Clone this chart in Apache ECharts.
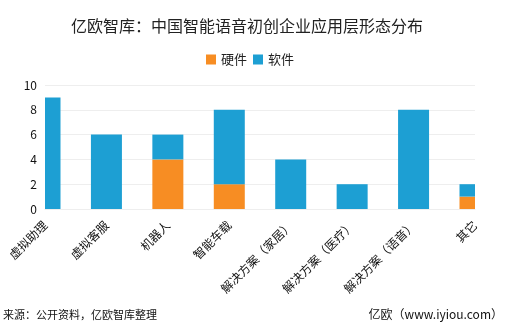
<!DOCTYPE html>
<html>
<head>
<meta charset="utf-8">
<script src="https://cdn.jsdelivr.net/npm/echarts@6/dist/echarts.min.js"></script>
<style>html,body{margin:0;padding:0;background:#fff;}#c{width:506px;height:327px;}</style>
</head>
<body>
<div id="c"></div>
<script>
const categories = ['虚拟助理', '虚拟客服', '机器人', '智能车载', '解决方案（家居）', '解决方案（医疗）', '解决方案（语音）', '其它'];
const hardware = [0, 0, 4, 2, 0, 0, 0, 1];
const software = [9, 6, 2, 6, 4, 2, 8, 1];
const yTicks = { min: 0, max: 10, interval: 2 };
const titleText = '亿欧智库：中国智能语音初创企业应用层形态分布';
const sourceText = '来源：公开资料，亿欧智库整理';
const siteText = '亿欧（www.iyiou.com）';

const FONT = '"Noto Sans CJK SC", "Noto Sans", sans-serif';
const BAR_W = 31;

// stacked data: [categoryIndex, value, base]
const hwData = hardware.map((v, i) => [i, v, 0]);
const swData = software.map((v, i) => [i, v, hardware[i]]);

function renderBar(params, api) {
  const i = api.value(0), v = api.value(1), b = api.value(2);
  if (!v) return null;
  const top = api.coord([i, b + v]);
  const bot = api.coord([i, b]);
  const cs = params.coordSys;
  const rect = echarts.graphic.clipRectByRect(
    { x: top[0] - BAR_W / 2, y: top[1], width: BAR_W, height: bot[1] - top[1] },
    { x: cs.x, y: cs.y, width: cs.width, height: cs.height }
  );
  return rect && { type: 'rect', shape: rect, style: api.style() };
}

const chart = echarts.init(document.getElementById('c'), null, { renderer: 'canvas' });
chart.setOption({
  backgroundColor: '#fff',
  animation: false,
  textStyle: { fontFamily: FONT },
  title: {
    text: titleText,
    left: 242, top: 13, textAlign: 'center',
    textStyle: { fontSize: 16, fontWeight: 'normal', color: '#222', fontFamily: FONT }
  },
  legend: {
    data: ['硬件', '软件'],
    left: 201, top: 48,
    itemWidth: 10, itemHeight: 10, itemGap: 6,
    icon: 'rect',
    textStyle: { fontSize: 13, color: '#222', fontFamily: FONT }
  },
  grid: { left: 45, right: 31, top: 85, bottom: 118, containLabel: false },
  xAxis: {
    type: 'category',
    data: categories,
    boundaryGap: false,
    axisLine: { lineStyle: { color: '#eeeeee' } },
    axisTick: { show: false },
    axisLabel: { rotate: 45, fontSize: 12, color: '#111', margin: 14, interval: 0, fontFamily: FONT }
  },
  yAxis: {
    type: 'value',
    min: yTicks.min, max: yTicks.max, interval: yTicks.interval,
    axisLine: { show: false },
    axisTick: { show: false },
    axisLabel: { fontSize: 12, color: '#111', margin: 8, fontFamily: FONT },
    splitLine: { lineStyle: { color: '#eeeeee' } }
  },
  series: [
    { name: '硬件', type: 'custom', renderItem: renderBar, data: hwData, encode: { x: 0, y: 1 }, itemStyle: { color: '#F78D23' } },
    { name: '软件', type: 'custom', renderItem: renderBar, data: swData, encode: { x: 0, y: 1 }, itemStyle: { color: '#1D9FD3' } }
  ],
  graphic: [
    { type: 'text', left: 3, top: 309, style: { text: sourceText, fill: '#111', font: '11px ' + FONT } },
    { type: 'text', right: 3, top: 308, style: { text: siteText, fill: '#111', font: '12px ' + FONT } }
  ]
});
</script>
</body>
</html>
